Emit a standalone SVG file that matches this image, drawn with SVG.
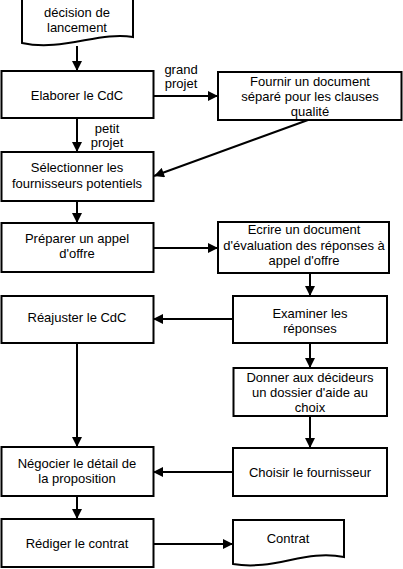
<svg xmlns="http://www.w3.org/2000/svg" width="403" height="569" viewBox="0 0 403 569">
<defs>
<style>
.box{fill:#fff;stroke:#000;stroke-width:2}
.t{font-family:"Liberation Sans",Arial,sans-serif;font-size:13px;fill:#000;text-anchor:middle}
.c{fill:none;stroke:#000;stroke-width:2;marker-end:url(#ah)}
</style>
<marker id="ah" viewBox="0 0 10 10" refX="10" refY="5" markerUnits="userSpaceOnUse" markerWidth="11" markerHeight="10" orient="auto">
<path d="M0,0 L10,5 L0,10 Z" fill="#000"/>
</marker>
</defs>
<rect width="403" height="569" fill="#fff"/>
<g id="connectors">
<path class="c" d="M77,46 V71"/>
<path class="c" d="M153,96 H218"/>
<path class="c" d="M77,118 V152"/>
<path class="c" d="M308,120 L154,176"/>
<path class="c" d="M77,201 V223"/>
<path class="c" d="M153,248 H218"/>
<path class="c" d="M310,273 V296"/>
<path class="c" d="M233,319 H153"/>
<path class="c" d="M310,343 V368"/>
<path class="c" d="M77,343 V447"/>
<path class="c" d="M310,416 V448"/>
<path class="c" d="M233,472 H153"/>
<path class="c" d="M77,496 V519"/>
<path class="c" d="M153,544 H233"/>
<text class="t" x="181" y="74">grand</text>
<text class="t" x="181" y="88">projet</text>
<text class="t" x="107" y="133">petit</text>
<text class="t" x="107" y="147">projet</text>
</g>
<g id="decision">
<path class="box" d="M22,-2 H133 V37 C100,31 62,52 22,43 Z"/>
<text class="t" x="77" y="17">décision de</text>
<text class="t" x="77" y="32">lancement</text>
</g>
<g id="elaborer">
<rect class="box" x="1.5" y="71" width="152" height="47"/>
<text class="t" x="77" y="100">Elaborer le CdC</text>
</g>
<g id="fournir">
<rect class="box" x="218" y="72" width="183.5" height="48"/>
<text class="t" x="310" y="86">Fournir un document</text>
<text class="t" x="310" y="101">séparé pour les clauses</text>
<text class="t" x="310" y="116">qualité</text>
</g>
<g id="selectionner">
<rect class="box" x="1.5" y="152" width="152" height="49"/>
<text class="t" x="77" y="172">Sélectionner les</text>
<text class="t" x="77" y="188">fournisseurs potentiels</text>
</g>
<g id="preparer">
<rect class="box" x="1.5" y="223" width="152" height="49"/>
<text class="t" x="77" y="243">Préparer un appel</text>
<text class="t" x="77" y="258">d'offre</text>
</g>
<g id="ecrire">
<rect class="box" x="218" y="222" width="171" height="51"/>
<text class="t" x="304" y="234">Ecrire un document</text>
<text class="t" x="304" y="249.5">d'évaluation des réponses à</text>
<text class="t" x="304" y="264.5">appel d'offre</text>
</g>
<g id="examiner">
<rect class="box" x="233" y="296" width="154" height="47"/>
<text class="t" x="310" y="317.5">Examiner les</text>
<text class="t" x="310" y="332.5">réponses</text>
</g>
<g id="reajuster">
<rect class="box" x="1.5" y="296" width="152" height="47"/>
<text class="t" x="77" y="322">Réajuster le CdC</text>
</g>
<g id="donner">
<rect class="box" x="233.5" y="368" width="153.5" height="48"/>
<text class="t" x="310" y="382">Donner aux décideurs</text>
<text class="t" x="310" y="397">un dossier d'aide au</text>
<text class="t" x="310" y="412">choix</text>
</g>
<g id="negocier">
<rect class="box" x="1.5" y="447" width="152" height="49"/>
<text class="t" x="77" y="468">Négocier le détail de</text>
<text class="t" x="77" y="483">la proposition</text>
</g>
<g id="choisir">
<rect class="box" x="233" y="448" width="154" height="48"/>
<text class="t" x="310" y="476.5">Choisir le fournisseur</text>
</g>
<g id="rediger">
<rect class="box" x="1.5" y="519" width="152" height="48"/>
<text class="t" x="77" y="548">Rédiger le contrat</text>
</g>
<g id="contrat">
<path class="box" d="M233,520 H344 V557 C305,549 275,571 233,564 Z"/>
<text class="t" x="288" y="543">Contrat</text>
</g>
</svg>
